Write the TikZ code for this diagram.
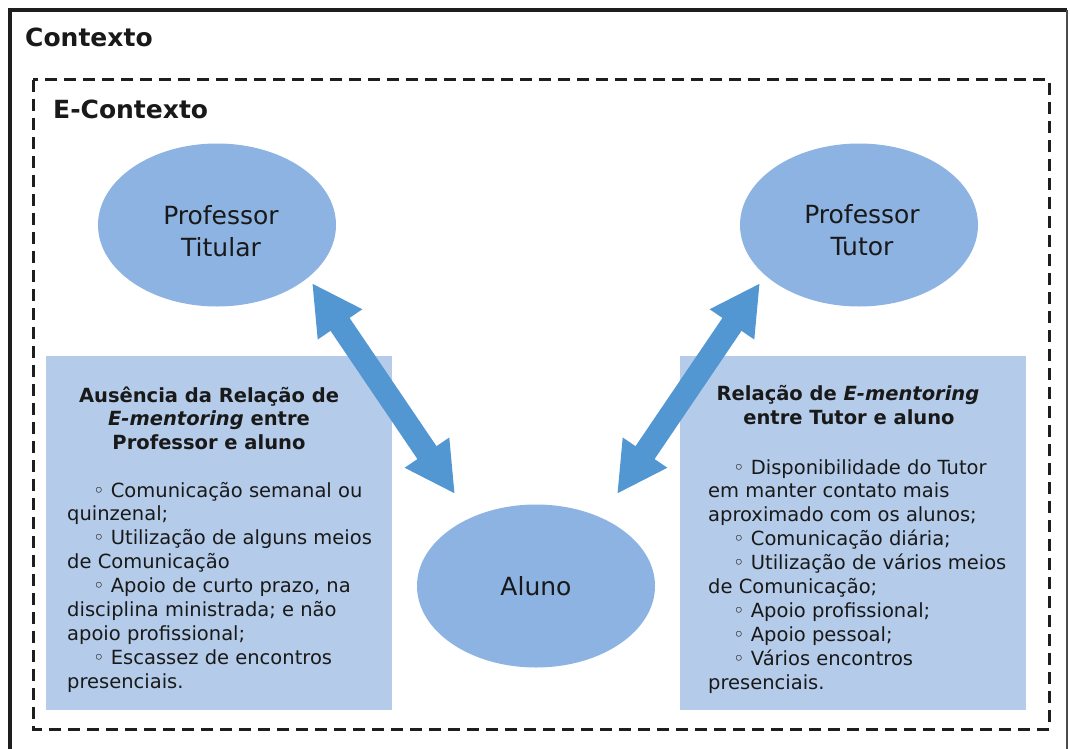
\documentclass[tikz,border=0pt]{standalone}
\usepackage{fontspec}
\setmainfont{DejaVu Sans}
\usetikzlibrary{shapes.geometric,arrows.meta}
\definecolor{ellc}{RGB}{141,179,226}
\definecolor{boxc}{RGB}{180,203,233}
\definecolor{arrc}{RGB}{82,150,210}
\definecolor{txtc}{RGB}{25,25,25}
\definecolor{framec}{RGB}{30,30,30}
\tikzset{
 ell/.style={ellipse, fill=ellc, draw=none, inner sep=0, minimum width=238pt, minimum height=163pt},
 ellt/.style={font=\fontsize{25}{32}\selectfont, align=center, text=txtc, inner sep=0},
 infobox/.style={fill=boxc, draw=none},
 ttl/.style={font=\fontsize{19.5}{23.5}\selectfont\bfseries, text=txtc, anchor=base, inner sep=0},
 bodyl/.style={font=\fontsize{19.5}{23.5}\selectfont, text=txtc, anchor=base west, inner sep=0},
 bigt/.style={font=\fontsize{25}{30}\selectfont\bfseries, text=txtc, anchor=base west, inner sep=0},
 dblarrow/.style={draw=arrc, line width=23pt, {Triangle[length=50pt,width=50pt]}-{Triangle[length=50pt,width=50pt]}},
}
\begin{document}
\begin{tikzpicture}[x=1pt,y=-1pt]
\useasboundingbox (0,0) rectangle (1070,749);
% outer frame
\draw[framec, line width=3.5pt] (10,760) -- (10,10) -- (1067,10);
\draw[framec!80, line width=2pt] (1067,10) -- (1067,760);
% dashed e-context frame
\draw[framec, line width=3pt, dash pattern=on 12pt off 7pt] (33,80) rectangle (1049,729);
\node[bigt] (ctx) at (25,47) {Contexto};
\node[bigt] (ectx) at (53,118) {E-Contexto};
% ellipses
\node[ell] (pt) at (217,225) {};
\node[ellt] (ptt) at (221,231) {Professor\\Titular};
\node[ell] (pu) at (859,225) {};
\node[ellt] (put) at (862,230) {Professor\\Tutor};
\node[ell, font=\fontsize{25}{32}\selectfont, text=txtc] (al) at (536,586) {Aluno};
% boxes
\node[infobox, anchor=north west, minimum width=346pt, minimum height=354pt, inner sep=0] (lb) at (46,356) {};
\node[infobox, anchor=north west, minimum width=346pt, minimum height=354pt, inner sep=0] (rb) at (680,356) {};
% left box text
\node[ttl] (lt1) at (209,402) {Ausência da Relação de};
\node[ttl] (lt2) at (209,425.5) {\textit{E-mentoring} entre};
\node[ttl] (lt3) at (209,449) {Professor e aluno};
\foreach \xx/\tt [count=\i] in {
 93/{◦ Comunicação semanal ou},
 67/{quinzenal;},
 93/{◦ Utilização de alguns meios},
 67/{de Comunicação},
 93/{◦ Apoio de curto prazo, na},
 67/{disciplina ministrada; e não},
 67/{apoio profissional;},
 93/{◦ Escassez de encontros},
 67/{presenciais.}}
 \node[bodyl] (lbl\i) at (\xx,{497+23.9*(\i-1)}) {\tt};
% right box text
\node[ttl] (rt1) at (848,400) {Relação de \textit{E-mentoring}};
\node[ttl] (rt2) at (849,424) {entre Tutor e aluno};
\foreach \xx/\tt [count=\i] in {
 733/{◦ Disponibilidade do Tutor},
 708/{em manter contato mais},
 708/{aproximado com os alunos;},
 733/{◦ Comunicação diária;},
 733/{◦ Utilização de vários meios},
 708/{de Comunicação;},
 733/{◦ Apoio profissional;},
 733/{◦ Apoio pessoal;},
 733/{◦ Vários encontros},
 708/{presenciais.}}
 \node[bodyl] (rbl\i) at (\xx,{474+23.9*(\i-1)}) {\tt};
% arrows
\coordinate (la1) at (312,283);
\coordinate (la2) at (455,494);
\coordinate (ra1) at (760,283);
\coordinate (ra2) at (617,494);
\draw[dblarrow] (la1) -- (la2);
\draw[dblarrow] (ra1) -- (ra2);
\end{tikzpicture}
\end{document}
